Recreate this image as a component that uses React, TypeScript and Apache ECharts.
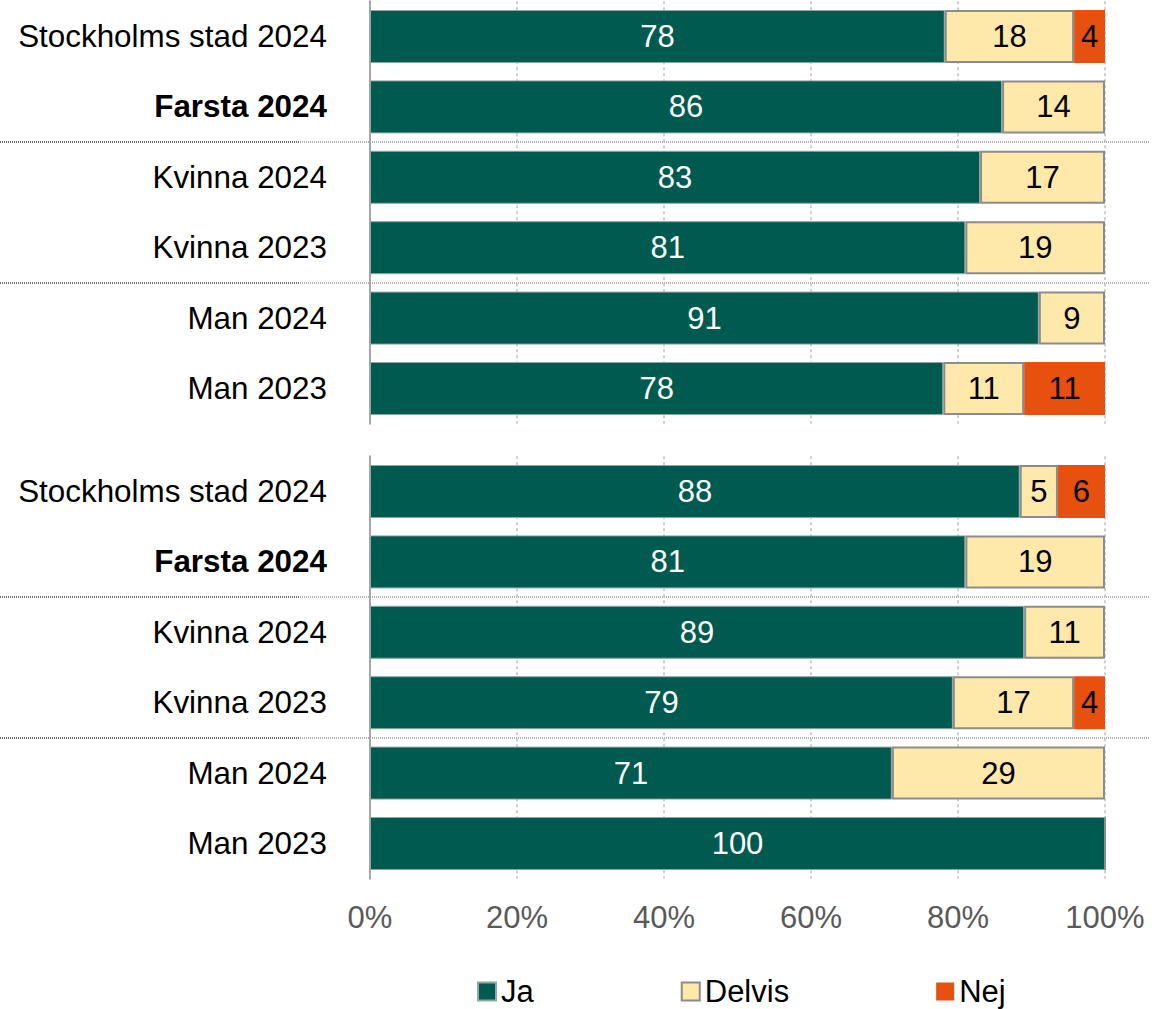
import React, { useEffect, useRef } from "react";
import * as echarts from "echarts";

const categories = ["Stockholms stad 2024", "Farsta 2024", "Kvinna 2024", "Kvinna 2023", "Man 2024", "Man 2023"];
const seriesNames = ["Ja", "Delvis", "Nej"];
// Top group
const ja1 = [78.2, 86, 83, 81, 91, 78];
const delvis1 = [17.6, 14, 17, 19, 9, 11];
const nej1 = [4.2, 0, 0, 0, 0, 11];
// Bottom group
const ja2 = [88.4, 81, 89, 79.3, 71, 100];
const delvis2 = [5.2, 19, 11, 16.5, 29, 0];
const nej2 = [6.4, 0, 0, 4.2, 0, 0];
const xTicks = [0, 20, 40, 60, 80, 100];

const COLORS = { ja: "#005A4F", delvis: "#FEE8AA", nej: "#E8500F" };
const FONT = "'Liberation Sans', Arial, sans-serif";
const FS = 31;
const CAT_FS = 31.4;

const LEFT = 370;
const RIGHT = 1159 - 1105;
const ROW = 70.4;
const G1_TOP = 1.3;
const G_H = ROW * 6;
const G2_TOP = 456.3;

export default function App() {
  const ref = useRef<HTMLDivElement>(null);
  useEffect(() => {
    if (!ref.current) return;
    const chart = echarts.init(ref.current, null, { renderer: "svg" });

    const labelFmt = (p: any) => (p.value > 0 ? String(Math.round(p.value)) : "");
    const mkSeries = (idx: number, data: number[], name: string, color: string, textColor: string, border: any) => ({
      type: "bar",
      name,
      stack: "s" + idx,
      xAxisIndex: idx,
      yAxisIndex: idx,
      data,
      barWidth: 53,
      itemStyle: { color, ...border },
      label: {
        show: true,
        position: "inside",
        formatter: labelFmt,
        color: textColor,
        fontSize: FS,
        fontFamily: FONT,
      },
    });

    const xAxisBase = (idx: number, showLabel: boolean) => ({
      type: "value",
      gridIndex: idx,
      min: xTicks[0],
      max: xTicks[xTicks.length - 1],
      interval: 20,
      axisLine: { show: false },
      axisTick: { show: false },
      axisLabel: {
        show: showLabel,
        formatter: "{value}%",
        color: "#595959",
        fontSize: FS,
        fontFamily: FONT,
        margin: 23,
      },
      splitLine: { show: true, lineStyle: { color: "#BFBFBF", type: [3, 3], width: 1.5 } },
    });

    const yAxisBase = (idx: number) => ({
      type: "category",
      gridIndex: idx,
      data: categories,
      inverse: true,
      axisLine: { show: true, lineStyle: { color: "#A6A6A6", width: 2 } },
      axisTick: { show: false },
      axisLabel: {
        color: "#000",
        fontSize: CAT_FS,
        fontFamily: FONT,
        margin: 43,
        formatter: (v: string) => (v === "Farsta 2024" ? "{b|" + v + "}" : v),
        rich: { b: { fontWeight: "bold", fontSize: CAT_FS, fontFamily: FONT, color: "#000" } },
      },
    });

    const sepYs = [G1_TOP + 2 * ROW, G1_TOP + 4 * ROW, G2_TOP + 2 * ROW, G2_TOP + 4 * ROW];
    const graphics: any[] = [];
    sepYs.forEach((y) => {
      graphics.push({
        type: "line",
        shape: { x1: 0, y1: y, x2: 300, y2: y },
        style: { stroke: "#6F6F6F", lineWidth: 2, lineDash: [1, 1] },
        silent: true,
      });
      graphics.push({
        type: "line",
        shape: { x1: 300, y1: y, x2: 1150, y2: y },
        style: { stroke: "#B0B0B0", lineWidth: 2, lineDash: [1, 1] },
        silent: true,
      });
    });

    const delvisBorder = { borderColor: "#8C8C8C", borderWidth: 2 };
    const jaBorder = { borderColor: "#8FA8A2", borderWidth: 1 };

    chart.setOption({
      animation: false,
      backgroundColor: "#fff",
      textStyle: { fontFamily: FONT },
      grid: [
        { left: LEFT, right: RIGHT, top: G1_TOP, height: G_H },
        { left: LEFT, right: RIGHT, top: G2_TOP, height: G_H },
      ],
      xAxis: [xAxisBase(0, false), xAxisBase(1, true)],
      yAxis: [yAxisBase(0), yAxisBase(1)],
      legend: {
        data: seriesNames,
        left: 477,
        top: 976,
        padding: 0,
        itemWidth: 18,
        itemHeight: 18,
        itemGap: 147,
        icon: "rect",
        textStyle: { fontSize: FS, fontFamily: FONT, color: "#000" },
      },
      graphic: graphics,
      series: [
        mkSeries(0, ja1, "Ja", COLORS.ja, "#fff", jaBorder),
        mkSeries(0, delvis1, "Delvis", COLORS.delvis, "#000", delvisBorder),
        mkSeries(0, nej1, "Nej", COLORS.nej, "#000", {}),
        mkSeries(1, ja2, "Ja", COLORS.ja, "#fff", jaBorder),
        mkSeries(1, delvis2, "Delvis", COLORS.delvis, "#000", delvisBorder),
        mkSeries(1, nej2, "Nej", COLORS.nej, "#000", {}),
      ],
    });
    return () => chart.dispose();
  }, []);

  return (
    <div
      ref={ref}
      style={{ position: "absolute", left: 0, top: 0, width: 1159, height: 1009, background: "#fff" }}
    />
  );
}
